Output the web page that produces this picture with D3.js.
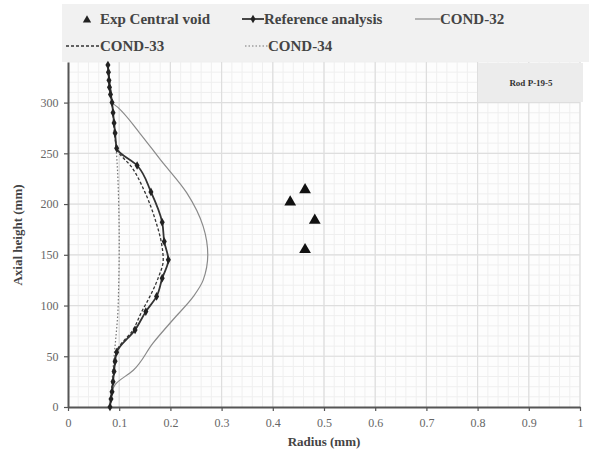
<!DOCTYPE html>
<html><head><meta charset="utf-8">
<script src="https://cdn.jsdelivr.net/npm/d3@7"></script>
<style>body{margin:0;background:#fff}svg{display:block}</style>
</head><body>
<script>
const W = 589, H = 457;
// Data (radius mm, axial height mm)
const expVoid = [[0.434, 202], [0.463, 214], [0.482, 184], [0.463, 155]];
const refAnalysis = [[0.078, 337], [0.079, 330], [0.080, 322], [0.081, 315], [0.083, 308], [0.086, 300], [0.088, 290], [0.090, 280], [0.092, 270], [0.095, 255],
  [0.135, 238], [0.162, 212], [0.184, 182], [0.188, 163], [0.196, 145], [0.184, 127], [0.173, 109], [0.152, 94], [0.131, 76], [0.095, 54],
  [0.092, 45], [0.090, 35], [0.088, 25], [0.086, 15], [0.084, 8], [0.082, 0]];
const cond32 = [[0.078, 337], [0.083, 315], [0.087, 300], [0.098, 295], [0.140, 270], [0.180, 244], [0.232, 211], [0.264, 178], [0.273, 150],
  [0.264, 125], [0.245, 109], [0.205, 86], [0.166, 63], [0.127, 36], [0.092, 22], [0.086, 15], [0.082, 0]];
const cond33 = [[0.078, 337], [0.086, 300], [0.095, 255], [0.125, 236], [0.150, 212], [0.172, 182], [0.182, 163], [0.186, 145], [0.176, 127],
  [0.160, 109], [0.144, 94], [0.127, 76], [0.094, 54], [0.088, 30], [0.082, 0]];
const cond34 = [[0.078, 337], [0.086, 300], [0.094, 255], [0.097, 230], [0.099, 200], [0.100, 160], [0.099, 120], [0.097, 90], [0.093, 66], [0.090, 50], [0.086, 25], [0.082, 0]];
const xTicks = [0, 0.1, 0.2, 0.3, 0.4, 0.5, 0.6, 0.7, 0.8, 0.9, 1];
const yTicks = [0, 50, 100, 150, 200, 250, 300];

const svg = d3.select("body").append("svg").attr("width", W).attr("height", H);
const x = d3.scaleLinear().domain([0, 1]).range([68, 580]);
const y = d3.scaleLinear().domain([0, 340]).range([407, 62]);
const serif = "'Liberation Serif','Times New Roman',serif";

// legend background
svg.append("rect").attr("x", 62).attr("y", 4).attr("width", 527).attr("height", 58).attr("fill", "#f1f1f1");
// plot bg
svg.append("rect").attr("x", 68).attr("y", 62).attr("width", 512).attr("height", 345).attr("fill", "#fdfdfd");

// minor grid
const g = svg.append("g");
g.selectAll(".mx").data(d3.range(0.02, 1.001, 0.02)).join("line")
  .attr("x1", d => x(d)).attr("x2", d => x(d)).attr("y1", y(0)).attr("y2", y(340))
  .attr("stroke", "#efefef").attr("stroke-width", 1);
g.selectAll(".my").data(d3.range(10, 341, 10)).join("line")
  .attr("y1", d => y(d)).attr("y2", d => y(d)).attr("x1", x(0)).attr("x2", x(1))
  .attr("stroke", "#efefef").attr("stroke-width", 1);
// major grid
g.selectAll(".Mx").data(xTicks.slice(1)).join("line")
  .attr("x1", d => x(d)).attr("x2", d => x(d)).attr("y1", y(0)).attr("y2", y(340))
  .attr("stroke", "#dedede").attr("stroke-width", 1.2);
g.selectAll(".My").data(yTicks.slice(1)).join("line")
  .attr("y1", d => y(d)).attr("y2", d => y(d)).attr("x1", x(0)).attr("x2", x(1))
  .attr("stroke", "#dedede").attr("stroke-width", 1.2);

// Rod box
svg.append("rect").attr("x", 478).attr("y", 63).attr("width", 105).attr("height", 39).attr("fill", "#ececec");
svg.append("text").attr("x", 531).attr("y", 86).attr("text-anchor", "middle")
  .attr("font-family", serif).attr("font-weight", "bold").attr("font-size", 9).attr("fill", "#333").text("Rod P-19-5");

// axes
const xAxis = svg.append("g").attr("transform", `translate(0,${y(0)})`)
  .call(d3.axisBottom(x).tickValues(xTicks).tickFormat(d3.format("")).tickSize(4).tickSizeOuter(0));
const yAxis = svg.append("g").attr("transform", `translate(${x(0)},0)`)
  .call(d3.axisLeft(y).tickValues(yTicks).tickSize(4).tickSizeOuter(0));
[xAxis, yAxis].forEach(a => {
  a.select(".domain").attr("stroke", "#555").attr("stroke-width", 2);
  a.selectAll(".tick line").attr("stroke", "#555").attr("stroke-width", 1.2);
  a.selectAll(".tick text").attr("font-family", serif).attr("font-size", 12).attr("fill", "#666");
});
xAxis.selectAll(".tick text").attr("dy", "1.1em");
yAxis.selectAll(".tick text").attr("dx", "-0.2em");

svg.append("text").attr("x", 324).attr("y", 446).attr("text-anchor", "middle")
  .attr("font-family", serif).attr("font-weight", "bold").attr("font-size", 13).attr("fill", "#444").text("Radius (mm)");
svg.append("text").attr("transform", "translate(22,235) rotate(-90)").attr("text-anchor", "middle")
  .attr("font-family", serif).attr("font-weight", "bold").attr("font-size", 13).attr("fill", "#444").text("Axial height (mm)");

const line = d3.line().x(d => x(d[0])).y(d => y(d[1])).curve(d3.curveMonotoneY);
svg.append("path").datum(cond32).attr("d", line).attr("fill", "none").attr("stroke", "#8a8a8a").attr("stroke-width", 1.2);
svg.append("path").datum(cond34).attr("d", line).attr("fill", "none").attr("stroke", "#777").attr("stroke-width", 1.2).attr("stroke-dasharray", "1.5,2");
svg.append("path").datum(cond33).attr("d", line).attr("fill", "none").attr("stroke", "#333").attr("stroke-width", 1.3).attr("stroke-dasharray", "3,2");
svg.append("path").datum(refAnalysis).attr("d", line).attr("fill", "none").attr("stroke", "#333").attr("stroke-width", 1.8);
const diamond = d3.symbol().type(d3.symbolDiamond).size(22);
svg.selectAll(".rm").data(refAnalysis).join("path").attr("d", diamond)
  .attr("transform", d => `translate(${x(d[0])},${y(d[1])})`).attr("fill", "#222");
const tri = d3.symbol().type(d3.symbolTriangle).size(60);
svg.selectAll(".ev").data(expVoid).join("path").attr("d", tri)
  .attr("transform", d => `translate(${x(d[0])},${y(d[1])})`).attr("fill", "#111");

// legend
const lg = svg.append("g").attr("font-family", serif).attr("font-weight", "bold").attr("font-size", 15).attr("fill", "#444");
lg.append("path").attr("d", d3.symbol().type(d3.symbolTriangle).size(30)).attr("transform", "translate(87,20)").attr("fill", "#222");
lg.append("text").attr("x", 100).attr("y", 24).text("Exp Central void");
lg.append("line").attr("x1", 242).attr("x2", 264).attr("y1", 19).attr("y2", 19).attr("stroke", "#333").attr("stroke-width", 1.8);
lg.append("path").attr("d", diamond).attr("transform", "translate(253,19)").attr("fill", "#222");
lg.append("text").attr("x", 264).attr("y", 24).text("Reference analysis");
lg.append("line").attr("x1", 415).attr("x2", 440).attr("y1", 19).attr("y2", 19).attr("stroke", "#8a8a8a").attr("stroke-width", 1.2);
lg.append("text").attr("x", 440).attr("y", 24).text("COND-32");
lg.append("line").attr("x1", 66).attr("x2", 100).attr("y1", 46).attr("y2", 46).attr("stroke", "#333").attr("stroke-width", 1.3).attr("stroke-dasharray", "3,2");
lg.append("text").attr("x", 100).attr("y", 51).text("COND-33");
lg.append("line").attr("x1", 245).attr("x2", 268).attr("y1", 46).attr("y2", 46).attr("stroke", "#777").attr("stroke-width", 1.2).attr("stroke-dasharray", "1.5,2");
lg.append("text").attr("x", 268).attr("y", 51).text("COND-34");
</script>
</body></html>
